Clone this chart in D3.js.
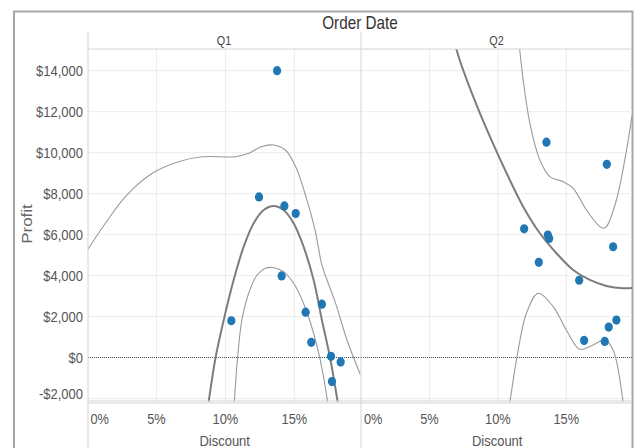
<!DOCTYPE html>
<html>
<head>
<meta charset="utf-8">
<script src="https://cdn.jsdelivr.net/npm/d3@7"></script>
<style>
  body { margin: 0; background: #fff; }
  text { font-family: "Liberation Sans", Arial, sans-serif; }
</style>
</head>
<body>
<div id="chart"></div>
<script>
// data (discount as fraction, profit in $)
const panes = ["Q1", "Q2"];

const q1Discount = [0.1375, 0.1244, 0.1428, 0.151, 0.1043, 0.1408, 0.170, 0.1582, 0.1623, 0.1766, 0.1836, 0.1773];
const q1Profit   = [14000, 7842, 7405, 7034, 1800, 3987, 2610, 2220, 745, 65, -210, -1167];

const q2Discount = [0.1355, 0.1796, 0.1192, 0.1365, 0.1375, 0.1842, 0.1299, 0.1594, 0.163, 0.1781, 0.181, 0.1866];
const q2Profit   = [10515, 9431, 6286, 5980, 5819, 5411, 4652, 3777, 841, 793, 1492, 1832];

// trend line + bands
const q1Trend = [[0.0860, -3100], [0.0879, -2146], [0.0928, -30], [0.0988, 1839], [0.106, 3790], [0.1133, 5415],
  [0.1205, 6556], [0.1278, 7205], [0.135, 7400], [0.1422, 7205], [0.1495, 6556], [0.1567, 5415], [0.164, 3790],
  [0.170, 1839], [0.176, -30], [0.1814, -2146], [0.1835, -3100]];
const q1Upper = [[0.000, 5254], [0.013, 6556], [0.0275, 7854], [0.047, 8995], [0.066, 9561], [0.083, 9805],
  [0.107, 9805], [0.117, 9971], [0.126, 10293], [0.135, 10376], [0.1435, 10132], [0.151, 9317], [0.1592, 7683],
  [0.165, 6229], [0.170, 4522], [0.1737, 3790], [0.1797, 2700], [0.1882, 863], [0.198, -844]];
const q1Lower = [[0.1055, -3100], [0.1065, -2146], [0.1089, 50], [0.112, 1839], [0.1169, 3141], [0.123, 4034],
  [0.129, 4360], [0.1355, 4390], [0.1422, 4195], [0.1495, 3629], [0.1567, 2650], [0.164, 1190], [0.1688, -112],
  [0.1741, -2146], [0.1755, -3100]];

const q2Trend = [[0.066, 16500], [0.0699, 15010], [0.082, 12732], [0.0942, 10780], [0.1064, 8995], [0.1185, 7366],
  [0.1307, 6068], [0.1428, 5093], [0.155, 4278], [0.1672, 3790], [0.1793, 3498], [0.1915, 3385], [0.198, 3400]];
const q2Upper = [[0.114, 16500], [0.116, 15010], [0.1185, 13546], [0.1234, 11434], [0.1307, 9644], [0.138, 8829],
  [0.1477, 8585], [0.155, 8263], [0.1647, 7205], [0.1745, 6390], [0.177, 6312], [0.1793, 6390], [0.1866, 7693],
  [0.194, 10132], [0.198, 11800]];
const q2Lower = [[0.1065, -3000], [0.1088, -2146], [0.1136, -112], [0.1209, 2166], [0.1295, 3141], [0.1404, 2488],
  [0.150, 1351], [0.1599, 410], [0.1696, 620], [0.178, 863], [0.1842, 376], [0.1915, -2146], [0.193, -3000]];

const yTicks = [-2000, 0, 2000, 4000, 6000, 8000, 10000, 12000, 14000];
const xTicks = [0, 0.05, 0.10, 0.15];

const paneData = [
  {name: panes[0], dx: q1Discount, py: q1Profit, trend: q1Trend, upper: q1Upper, lower: q1Lower},
  {name: panes[1], dx: q2Discount, py: q2Profit, trend: q2Trend, upper: q2Upper, lower: q2Lower}
];

const W = 635, H = 448;
const paneTop = 49, paneBottom = 401.7;
const paneX = [[87.5, 360.5], [361, 632]];
const STRETCH = 1.17;   // the reference text is a bit taller than it is wide

const svg = d3.select("#chart").append("svg")
  .attr("width", W).attr("height", H);

const y = d3.scaleLinear().domain([-2150, 15060]).range([paneBottom, paneTop]);

// place a text at x, y with the vertical stretch
function tall(sel, fx, fy) {
  return sel.attr("transform", (d, i) => {
    const xx = typeof fx === "function" ? fx(d, i) : fx;
    const yy = typeof fy === "function" ? fy(d, i) : fy;
    return `translate(${xx},${yy}) scale(1,${STRETCH})`;
  });
}

// outer frame
svg.append("path")
  .attr("d", `M14,${H} V11.5 H632.5 V${H}`)
  .attr("fill", "none").attr("stroke", "#a8a8a8").attr("stroke-width", 2);

tall(svg.append("text"), 360, 29)
  .attr("text-anchor", "middle")
  .style("font-size", "15.3px").attr("fill", "#333")
  .text("Order Date");

svg.append("text")
  .attr("transform", `translate(32,224) rotate(-90) scale(${STRETCH},1)`)
  .attr("text-anchor", "middle")
  .style("font-size", "14.5px").attr("fill", "#666")
  .text("Profit");

// y axis labels
tall(svg.append("g").selectAll("text").data(yTicks).enter().append("text"),
    83, d => Math.min(y(d), paneBottom - 8) + 5.4)
  .attr("text-anchor", "end")
  .style("font-size", "13px").attr("fill", "#555")
  .text(d => (d < 0 ? "-$" : "$") + d3.format(",")(Math.abs(d)));

paneData.forEach(function(p, i) {
  const x = d3.scaleLinear().domain([0, 0.198]).range(paneX[i]);
  const g = svg.append("g");
  const left = paneX[i][0], right = paneX[i][1];

  // gridlines
  g.selectAll(".hg").data(yTicks).enter().append("line")
    .attr("x1", left).attr("x2", right)
    .attr("y1", d => y(d)).attr("y2", d => y(d))
    .attr("stroke", "#ececec");
  g.selectAll(".vg").data(xTicks.slice(1)).enter().append("line")
    .attr("x1", d => x(d)).attr("x2", d => x(d))
    .attr("y1", paneTop).attr("y2", paneBottom)
    .attr("stroke", "#ececec");

  // header row
  tall(g.append("text"), (left + right) / 2, 45)
    .attr("text-anchor", "middle")
    .style("font-size", "10.8px").attr("fill", "#444")
    .text(p.name);

  // x ticks
  tall(g.selectAll(".xt").data(xTicks).enter().append("text"),
      d => d === 0 ? left + 3 : x(d), 424)
    .attr("text-anchor", d => d === 0 ? "start" : "middle")
    .style("font-size", "12.8px").attr("fill", "#555")
    .text(d => d3.format(".0%")(d));

  tall(g.append("text"), x(0.0995), 446)
    .attr("text-anchor", "middle")
    .style("font-size", "13px").attr("fill", "#555")
    .text("Discount");

  // zero line
  g.append("line")
    .attr("x1", Math.ceil(left)).attr("x2", right)
    .attr("y1", 357.5).attr("y2", 357.5)
    .attr("stroke", "#555").attr("stroke-dasharray", "1,1");

  const clipId = "clip" + i;
  svg.append("clipPath").attr("id", clipId).append("rect")
    .attr("x", left).attr("y", paneTop).attr("width", right - left).attr("height", paneBottom - paneTop);

  const line = d3.line()
    .x(d => x(d[0])).y(d => y(d[1]))
    .curve(d3.curveCatmullRom.alpha(0.5));

  const lines = g.append("g").attr("clip-path", `url(#${clipId})`);
  lines.append("path").datum(p.upper)
    .attr("d", line).attr("fill", "none").attr("stroke", "#9a9a9a").attr("stroke-width", 1.1);
  lines.append("path").datum(p.lower)
    .attr("d", line).attr("fill", "none").attr("stroke", "#9a9a9a").attr("stroke-width", 1.1);
  lines.append("path").datum(p.trend)
    .attr("d", line).attr("fill", "none").attr("stroke", "#7d7d7d").attr("stroke-width", 2);

  lines.selectAll("ellipse").data(p.dx).enter().append("ellipse")
    .attr("cx", d => x(d))
    .attr("cy", (d, k) => y(p.py[k]))
    .attr("rx", 4.1).attr("ry", 4.6)
    .attr("fill", "#1f77b4");
});

// pane borders
const borders = svg.append("g").attr("stroke", "#d4d4d4").attr("fill", "none");
borders.append("line").attr("x1", 88).attr("x2", 88).attr("y1", 32).attr("y2", H);
borders.append("line").attr("x1", 361).attr("x2", 361).attr("y1", 32).attr("y2", H);
borders.append("line").attr("x1", 88).attr("x2", 632).attr("y1", paneTop).attr("y2", paneTop);
borders.append("line").attr("x1", 88).attr("x2", 632).attr("y1", paneBottom - 0.7).attr("y2", paneBottom - 0.7);
borders.append("line").attr("x1", 88).attr("x2", 632).attr("y1", paneBottom + 1.3).attr("y2", paneBottom + 1.3);
</script>
</body>
</html>
